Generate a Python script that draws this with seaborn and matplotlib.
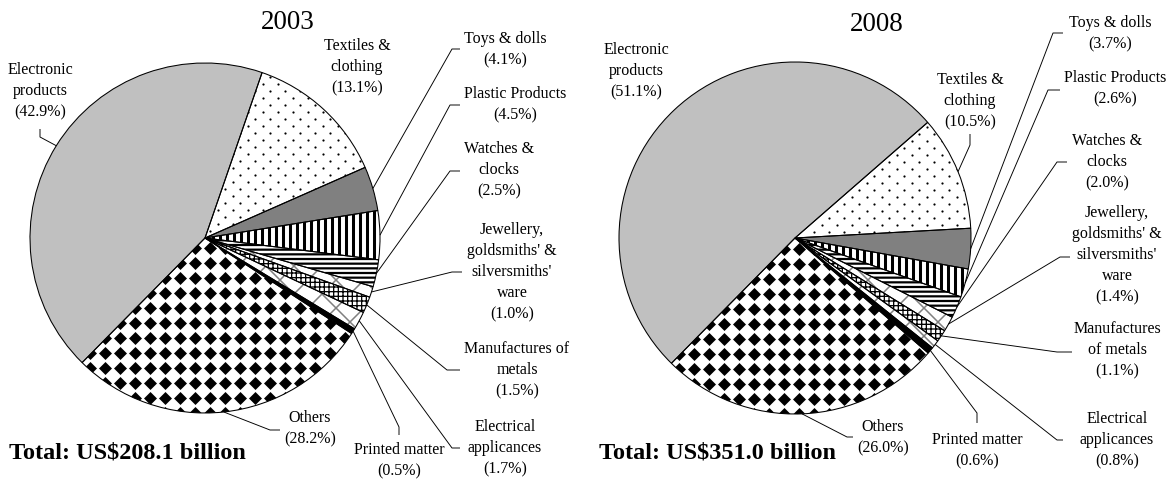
import numpy as np
import matplotlib
matplotlib.use("Agg")
import matplotlib.pyplot as plt
import seaborn as sns

# ---------------- data ----------------
categories = ["Electronic products", "Textiles & clothing", "Toys & dolls",
              "Plastic Products", "Watches & clocks",
              "Jewellery, goldsmiths' & silversmiths' ware",
              "Manufactures of metals", "Electrical applicances",
              "Printed matter", "Others"]
share_2003 = [42.9, 13.1, 4.1, 4.5, 2.5, 1.0, 1.5, 1.7, 0.5, 28.2]
share_2008 = [51.1, 10.5, 3.7, 2.6, 2.0, 1.4, 1.1, 0.8, 0.6, 26.0]
years = ["2003", "2008"]
totals_bn = [208.1, 351.0]

# line-broken label text (layout only)
wrapped_2003 = ["Electronic\nproducts", "Textiles &\nclothing", "Toys & dolls",
                "Plastic Products", "Watches &\nclocks",
                "Jewellery,\ngoldsmiths' &\nsilversmiths'\nware",
                "Manufactures of\nmetals", "Electrical\napplicances",
                "Printed matter", "Others"]
wrapped_2008 = ["Electronic\nproducts", "Textiles &\nclothing", "Toys & dolls",
                "Plastic Products", "Watches &\nclocks",
                "Jewellery,\ngoldsmiths' &\nsilversmiths'\nware",
                "Manufactures\nof metals", "Electrical\napplicances",
                "Printed matter", "Others"]

# ---------------- style ----------------
W, H = 1173, 479
DPI = 84
STARTANGLE = 225.4
LABEL_FS = 13.7
LINESP = 1.43
TITLE_FS = 23.2
TOTAL_FS = 20.8

# facecolor, hatch, hatch colour, hatch linewidth
styles = [
    ("#C0C0C0", None, "#C0C0C0", 1.0),
    ("white", None, "white", 1.0),          # dots added as texture
    ("#808080", None, "#808080", 1.0),
    ("white", "||", "black", 2.6),
    ("white", "---", "black", 1.9),
    ("white", "x", "#808080", 1.3),
    ("white", "+++", "black", 1.1),
    ("white", "x", "#808080", 1.3),
    ("black", None, "black", 1.0),
    ("white", None, "white", 1.0),          # diamonds added as texture
]

layouts = [
    dict(center=(205, 238), radius=175, title=(288, 22), total=(9, 453),
         labels=[
             ((40, 91), [(40, 137), (40, 129)]),
             ((357, 67), None),
             ((505, 50), [(452, 49), (460, 49)]),
             ((515, 105), [(450, 105), (460, 105)]),
             ((499, 170), [(450, 171), (460, 171)]),
             ((512, 272), [(452, 272), (462, 272)]),
             ((517, 370), [(447, 370), (460, 370)]),
             ((505, 448), [(452, 448), (460, 448)]),
             ((399, 461), [(399, 427), (399, 435)]),
             ((310, 429), [(270, 430), (280, 430)]),
         ]),
    dict(center=(795, 238), radius=176, title=(877, 24), total=(599, 453),
         labels=[
             ((636, 71), None),
             ((970, 101), [(970, 145), (970, 134)]),
             ((1110, 34), [(1053, 33), (1063, 33)]),
             ((1115, 89), [(1048, 90), (1060, 90)]),
             ((1107, 162), [(1057, 162), (1067, 162)]),
             ((1117, 255), [(1060, 257), (1070, 257)]),
             ((1117, 350), [(1057, 352), (1072, 352)]),
             ((1117, 440), [(1057, 440), (1063, 440)]),
             ((977, 451), [(977, 413), (977, 423)]),
             ((883, 438), [(847, 437), (853, 437)]),
         ]),
]

sns.set_theme(style="white")
plt.rcParams['font.family'] = ['Liberation Serif', 'DejaVu Serif']
plt.rcParams['hatch.linewidth'] = 1.3


def P(x, y):
    """pixel position (y down) -> data position (y up)"""
    return x, H - y


fig = plt.figure(figsize=(W / DPI, H / DPI), dpi=DPI)
fig.patch.set_facecolor("white")
ax = fig.add_axes([0, 0, 1, 1])

for values, wrapped, year, total, lay in zip([share_2003, share_2008],
                                             [wrapped_2003, wrapped_2008],
                                             years, totals_bn, layouts):
    c = P(*lay["center"])
    r = lay["radius"]
    fills, _ = ax.pie(values, startangle=STARTANGLE, counterclock=False,
                      center=c, radius=r, wedgeprops=dict(linewidth=0))
    for w, (fc, hatch, hc, hlw) in zip(fills, styles):
        w.set_facecolor(fc)
        w.set_edgecolor(hc)
        w.set_linewidth(0)
        w.set_zorder(1)
        if hatch:
            w.set_hatch(hatch)
            if hasattr(w, "set_hatch_linewidth"):
                w.set_hatch_linewidth(hlw)

    # dotted texture for textiles (staggered lattice)
    dy, dx = 7.0, 15.0
    pts = []
    for i, yy in enumerate(np.arange(c[1] - r, c[1] + r + dy, dy)):
        xs = np.arange(c[0] - r, c[0] + r + dx, dx) + (dx / 2 if i % 2 else 0)
        pts += [(x, yy) for x in xs]
    pts = np.array(pts)
    sd = ax.scatter(pts[:, 0], pts[:, 1], marker="o", s=3.6, c="black",
                    linewidths=0, zorder=2)
    sd.set_clip_path(fills[1])

    # diamond checker texture for "Others"
    gx = np.arange(c[0] - r, c[0] + r + 15, 15.0)
    gy = np.arange(c[1] - r, c[1] + r + 15, 15.0)
    XX, YY = np.meshgrid(gx, gy)
    sc = ax.scatter(XX.ravel(), YY.ravel(), marker="D", s=62, c="black",
                    linewidths=0, zorder=2)
    sc.set_clip_path(fills[-1])

    outlines, _ = ax.pie(values, startangle=STARTANGLE, counterclock=False,
                         center=c, radius=r,
                         wedgeprops=dict(fill=False, edgecolor="black",
                                         linewidth=0.9))
    for w in outlines:
        w.set_zorder(3)

    # labels and leader lines
    for w, name, v, (tpos, leader) in zip(fills, wrapped, values, lay["labels"]):
        ax.text(*P(*tpos), f"{name}\n({v:.1f}%)", ha="center", va="center",
                multialignment="center", fontsize=LABEL_FS, linespacing=LINESP,
                color="black", zorder=5)
        if leader:
            th = np.deg2rad((w.theta1 + w.theta2) / 2)
            line = [(c[0] + r * np.cos(th), c[1] + r * np.sin(th))]
            line += [P(*p) for p in leader]
            xs, ys = zip(*line)
            ax.plot(xs, ys, color="black", lw=0.8, zorder=4,
                    solid_capstyle="butt")

    ax.text(*P(*lay["title"]), year, ha="center", va="center",
            fontsize=TITLE_FS, color="black")
    ax.text(*P(*lay["total"]), f"Total: US${total:.1f} billion", ha="left",
            va="center", fontsize=TOTAL_FS, fontweight="bold", color="black")

ax.set_xlim(0, W)
ax.set_ylim(0, H)
ax.set_aspect("equal", adjustable="box")
ax.axis("off")

fig.savefig("out.png", dpi=DPI, facecolor="white")
